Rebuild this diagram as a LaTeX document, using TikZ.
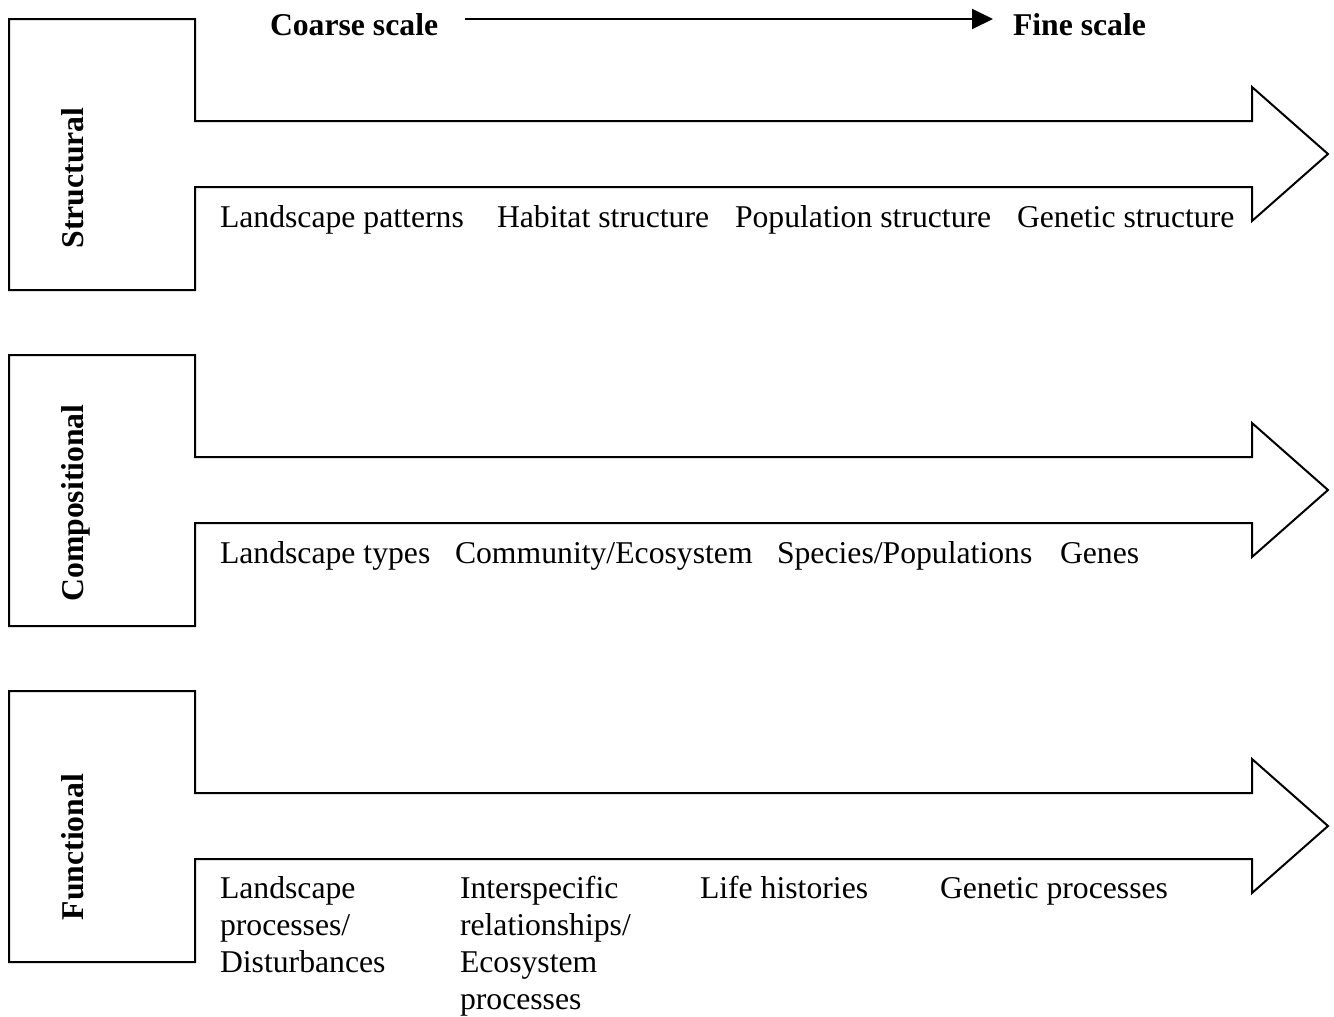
\documentclass[tikz,border=0pt]{standalone}
\usepackage{fontspec}
\setmainfont{Liberation Serif}
\usetikzlibrary{arrows.meta}
\begin{document}
\begin{tikzpicture}[x=1pt,y=-1pt,line width=2pt,line join=miter,
  lbl/.style={anchor=base west,inner sep=0pt,font=\fontsize{31.7}{37}\selectfont},
  side/.style={rotate=90,anchor=base,inner sep=0pt,font=\fontsize{31.7}{37}\selectfont\bfseries},
  hdr/.style={anchor=base west,inner sep=0pt,font=\fontsize{31.7}{37}\selectfont\bfseries},
  bigarrow/.style={draw=black,fill=white}]
\useasboundingbox (0,0) rectangle (1334,1017);
% header
\node[hdr] (coarse) at (269,35) {Coarse scale};
\node[hdr] (fine) at (1012,35) {Fine scale};
\coordinate (ha) at (465,19);
\coordinate (hb) at (993,19);
\draw[-{Triangle[length=21pt,width=20pt]}] (ha) -- (hb);
% shapes
\draw[bigarrow] (9,19) -- (195,19) -- (195,121) -- (1252,121) -- (1252,87) -- (1328,154) -- (1252,221) -- (1252,187) -- (195,187) -- (195,290) -- (9,290) -- cycle;
\draw[bigarrow] (9,355) -- (195,355) -- (195,457) -- (1252,457) -- (1252,423) -- (1328,490) -- (1252,557) -- (1252,523) -- (195,523) -- (195,626) -- (9,626) -- cycle;
\draw[bigarrow] (9,691) -- (195,691) -- (195,793) -- (1252,793) -- (1252,759) -- (1328,826) -- (1252,893) -- (1252,859) -- (195,859) -- (195,962) -- (9,962) -- cycle;
% side labels
\node[side] (s1) at (83,178) {Structural};
\node[side] (s2) at (83,503) {Compositional};
\node[side] (s3) at (83,847) {Functional};
% row 1
\node[lbl] (r1a) at (219,227) {Landscape patterns};
\node[lbl] (r1b) at (496,227) {Habitat structure};
\node[lbl] (r1c) at (734,227) {Population structure};
\node[lbl] (r1d) at (1016,227) {Genetic structure};
% row 2
\node[lbl] (r2a) at (219,563) {Landscape types};
\node[lbl] (r2b) at (454,563) {Community/Ecosystem};
\node[lbl] (r2c) at (776,563) {Species/Populations};
\node[lbl] (r2d) at (1059,563) {Genes};
% row 3
\node[lbl] (r3a) at (219,898) {Landscape};
\node[lbl] (r3a2) at (219,935) {processes/};
\node[lbl] (r3a3) at (219,972) {Disturbances};
\node[lbl] (r3b) at (459,898) {Interspecific};
\node[lbl] (r3b2) at (459,935) {relationships/};
\node[lbl] (r3b3) at (459,972) {Ecosystem};
\node[lbl] (r3b4) at (459,1009) {processes};
\node[lbl] (r3c) at (699,898) {Life histories};
\node[lbl] (r3d) at (939,898) {Genetic processes};
\end{tikzpicture}
\end{document}
